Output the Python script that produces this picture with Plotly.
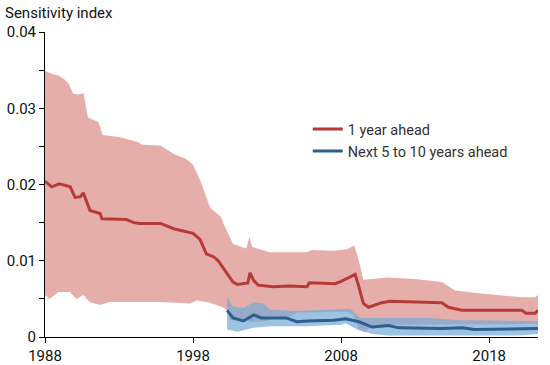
import plotly.graph_objects as go

# ---- data (decimal years, sensitivity index) ----
red_line_years = [1988.0, 1988.45, 1988.97, 1989.7, 1990.03, 1990.4, 1990.59, 1991.04, 1991.72, 1991.85,
                  1993.5, 1994.0, 1994.42, 1995.8, 1996.7, 1997.9, 1998.0, 1998.47, 1998.9, 1999.4,
                  1999.7, 2000.3, 2000.7, 2001.0, 2001.7, 2001.85, 2002.1, 2002.4, 2003.4, 2004.5,
                  2005.7, 2005.85, 2007.6, 2008.0, 2008.4, 2008.95, 2009.2, 2009.5, 2009.85, 2010.75,
                  2011.3, 2014.8, 2015.25, 2016.15, 2020.2, 2020.5, 2021.1, 2021.3]
red_line_vals = [0.0204, 0.0197, 0.0201, 0.0197, 0.0183, 0.0184, 0.0189, 0.0166, 0.0162, 0.0155,
                 0.0154, 0.0150, 0.0149, 0.0149, 0.0142, 0.0137, 0.0136, 0.0128, 0.0109, 0.0105,
                 0.0100, 0.0083, 0.0072, 0.0069, 0.0071, 0.0084, 0.0074, 0.0068, 0.0066, 0.0067,
                 0.0066, 0.0071, 0.0070, 0.0073, 0.0077, 0.0082, 0.0066, 0.0044, 0.0039, 0.0045,
                 0.0047, 0.0045, 0.0039, 0.0035, 0.0035, 0.0031, 0.0031, 0.0035]

red_hi_years = [1988.0, 1988.5, 1988.9, 1989.3, 1989.6, 1989.9, 1990.3, 1990.6, 1990.9, 1991.6,
                1991.9, 1993.1, 1994.2, 1994.6, 1995.8, 1996.7, 1997.5, 1998.0, 1998.5, 1999.15,
                1999.9, 2000.05, 2000.7, 2001.6, 2001.8, 2002.0, 2003.2, 2005.7, 2006.0, 2007.5,
                2008.4, 2008.9, 2009.2, 2009.5, 2011.2, 2013.0, 2014.8, 2015.7, 2017.0, 2020.2,
                2021.1, 2021.3]
red_hi_vals = [0.0349, 0.0345, 0.0343, 0.0338, 0.0332, 0.0319, 0.0318, 0.0320, 0.0288, 0.0282,
               0.0265, 0.0262, 0.0256, 0.0252, 0.0251, 0.0240, 0.0234, 0.0226, 0.0205, 0.0170,
               0.0157, 0.0149, 0.0122, 0.0116, 0.0131, 0.0118, 0.0111, 0.0111, 0.0114, 0.0113,
               0.0115, 0.0120, 0.0100, 0.0075, 0.0078, 0.0076, 0.0072, 0.0061, 0.0058, 0.0052,
               0.0052, 0.0055]

red_lo_years = [1988.0, 1988.3, 1988.9, 1989.7, 1990.1, 1990.6, 1991.0, 1991.7, 1992.4, 1995.8,
                1997.8, 1998.25, 1999.15, 2000.0, 2000.3, 2000.5, 2002.0, 2003.0, 2003.3, 2004.5,
                2005.0, 2008.5, 2008.8, 2009.2, 2009.6, 2010.0, 2010.5, 2021.3]
red_lo_vals = [0.0055, 0.0050, 0.0059, 0.0059, 0.0050, 0.0055, 0.0046, 0.0042, 0.0046, 0.0046,
               0.0044, 0.0048, 0.0045, 0.0039, 0.0035, 0.0022, 0.0020, 0.0021, 0.0025, 0.0026,
               0.0032, 0.0033, 0.0030, 0.0010, 0.0007, 0.0013, 0.0016, 0.0017]

blue_line_years = [2000.3, 2000.7, 2001.4, 2001.8, 2002.1, 2002.6, 2004.3, 2005.0, 2005.7, 2007.5,
                   2008.3, 2009.2, 2010.1, 2011.2, 2011.9, 2014.8, 2016.2, 2017.0, 2021.3]
blue_line_vals = [0.0035, 0.0025, 0.0021, 0.0025, 0.0029, 0.0025, 0.0025, 0.0020, 0.0021, 0.0022,
                  0.0024, 0.0020, 0.0013, 0.0015, 0.0012, 0.0011, 0.0012, 0.0010, 0.0011]

blue_hi_years = [2000.3, 2000.7, 2001.4, 2002.1, 2002.75, 2003.2, 2005.0, 2008.0, 2008.6, 2009.3,
                 2014.0, 2016.0, 2021.3]
blue_hi_vals = [0.0053, 0.0040, 0.0038, 0.0046, 0.0044, 0.0036, 0.0034, 0.0036, 0.0037, 0.0025,
                0.0025, 0.0022, 0.0021]

blue_lo_years = [2000.3, 2001.0, 2002.1, 2003.2, 2005.7, 2008.0, 2008.3, 2009.2, 2010.1, 2011.2,
                 2020.0, 2021.3]
blue_lo_vals = [0.0010, 0.0007, 0.0012, 0.0014, 0.0014, 0.0016, 0.0018, 0.0009, 0.0004, 0.0002,
                0.0002, 0.0004]

x_ticks = [1988, 1998, 2008, 2018]
y_ticks = [0, 0.01, 0.02, 0.03, 0.04]
y_tick_text = ["0", "0.01", "0.02", "0.03", "0.04"]

RED = "#b83a35"
BLUE = "#2d5e8e"
FONT = "Roboto"
FS = 15

fig = go.Figure()

# red band (polygon)
fig.add_trace(go.Scatter(
    x=red_hi_years + red_lo_years[::-1],
    y=red_hi_vals + red_lo_vals[::-1],
    fill="toself", fillcolor="#e6aeab", line=dict(width=0),
    mode="lines", showlegend=False, hoverinfo="skip"))

# blue band (semi-transparent polygon)
fig.add_trace(go.Scatter(
    x=blue_hi_years + blue_lo_years[::-1],
    y=blue_hi_vals + blue_lo_vals[::-1],
    fill="toself", fillcolor="rgba(115,169,215,0.7)", line=dict(width=0),
    mode="lines", showlegend=False, hoverinfo="skip"))

fig.add_trace(go.Scatter(x=red_line_years, y=red_line_vals, mode="lines",
                         line=dict(color=RED, width=3), name="1 year ahead"))
fig.add_trace(go.Scatter(x=blue_line_years, y=blue_line_vals, mode="lines",
                         line=dict(color=BLUE, width=3), name="Next 5 to 10 years ahead"))

fig.update_layout(
    width=550, height=365,
    margin=dict(l=45, r=12, t=32, b=28),
    paper_bgcolor="white", plot_bgcolor="white",
    font=dict(family=FONT, size=FS, color="#111111"),
    legend=dict(x=0.533, y=0.734, xanchor="left", yanchor="top",
                font=dict(family=FONT, size=14.5, color="#333333"),
                bgcolor="rgba(0,0,0,0)", tracegroupgap=0),
    annotations=[dict(text="Sensitivity index", xref="paper", yref="paper",
                      x=-42 / 493, y=1.0, xanchor="left", yanchor="bottom",
                      yshift=8, showarrow=False,
                      font=dict(family=FONT, size=FS, color="#111111"))],
)

fig.update_xaxes(range=[1988, 2021.3], tickvals=x_ticks, ticktext=[str(t) for t in x_ticks],
                 automargin=False,
                 showgrid=False, zeroline=False, showline=True, linecolor="black", linewidth=1,
                 ticks="outside", ticklen=5, tickcolor="black",
                 tickfont=dict(family=FONT, size=FS, color="#111111"))
fig.update_yaxes(range=[0, 0.04], tickvals=y_ticks, ticktext=y_tick_text,
                 automargin=False,
                 showgrid=False, zeroline=False, showline=True, linecolor="black", linewidth=1,
                 ticks="outside", ticklen=5, tickcolor="black",
                 minor=dict(dtick=0.005, ticks="outside", ticklen=5, tickcolor="black"),
                 tickfont=dict(family=FONT, size=FS, color="#111111"))

fig.write_html("out.html",
               config={"displayModeBar": False},
               post_script="document.body.style.margin='0';document.body.style.overflow='hidden';")
